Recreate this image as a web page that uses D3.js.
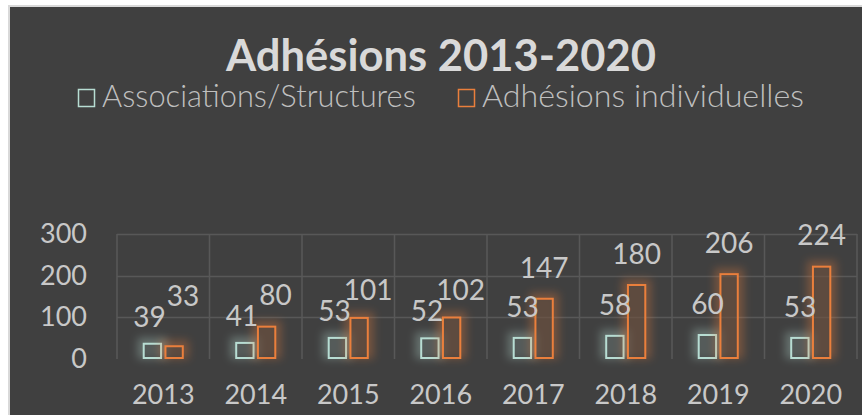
<!DOCTYPE html>
<html>
  <head>
    <meta charset="UTF-8">
    <style>
      body {
        margin: 0;
        background: #ffffff;
      }
      text {
        font-family: 'Lato', 'Open Sans', sans-serif;
      }
    </style>
    <script src="https://d3js.org/d3.v7.min.js"></script>
  </head>

  <body>
    <svg id="chart"></svg>

    <script type="text/javascript">
      let years = ['2013', '2014', '2015', '2016', '2017', '2018', '2019', '2020']
      let seriesNames = ['Associations/Structures', 'Adhésions individuelles']
      let associations = [39, 41, 53, 52, 53, 58, 60, 53]
      let individuelles = [33, 80, 101, 102, 147, 180, 206, 224]
      let yTicks = [0, 100, 200, 300]
      let title = 'Adhésions 2013-2020'

      let seriesColors = ['#b7ddd3', '#ea7f3c']

      function getConfig() {
        let width = 862
        let height = 415
        let margin = {top: 234, bottom: 55, left: 117, right: 5}
        let container = d3.select('#chart')
          .attr('width', width)
          .attr('height', height)
        return {width, height, margin, container}
      }

      function getScales(config) {
        let {width, height, margin} = config
        let xScale = d3.scaleBand()
          .domain(years)
          .range([margin.left, width - margin.right])
        let half = xScale.bandwidth() * 0.222
        let innerScale = d3.scaleBand()
          .domain(seriesNames)
          .range([-half, half])
          .paddingInner(0.11)
        let yScale = d3.scaleLinear()
          .domain([0, 300])
          .range([height - margin.bottom - 1, margin.top])
        return {xScale, innerScale, yScale}
      }

      function fitFont(sel, target, base) {
        sel.style('font-size', base + 'px')
        let w = sel.node().getComputedTextLength()
        sel.style('font-size', (base * target / w) + 'px')
      }

      function drawFrame(config) {
        let {container, width, height} = config
        container.append('rect')
          .attr('x', 9)
          .attr('y', 6)
          .attr('width', width)
          .attr('height', height)
          .attr('fill', '#404040')
          .attr('stroke', '#d9d9d9')
          .attr('stroke-width', 2)

        let defs = container.append('defs')
        let glow = defs.append('filter')
          .attr('id', 'glow')
          .attr('x', '-80%').attr('y', '-80%')
          .attr('width', '260%').attr('height', '260%')
        glow.append('feGaussianBlur')
          .attr('in', 'SourceGraphic')
          .attr('stdDeviation', 4.5)
      }

      function drawTitleAndLegend(config) {
        let {container} = config
        let t = container.append('text')
          .attr('x', 441)
          .attr('y', 71)
          .attr('text-anchor', 'middle')
          .attr('fill', '#d9d9d9')
          .style('font-weight', 'bold')
          .text(title)
        fitFont(t, 430, 40)

        let legendX = [78, 458]
        let legend = container.selectAll('.legend')
          .data(seriesNames)
          .enter()
          .append('g')
          .attr('class', 'legend')
          .attr('transform', (d, i) => `translate(${legendX[i]}, 0)`)

        legend.append('rect')
          .attr('x', 0.5)
          .attr('y', 89.5)
          .attr('width', 16)
          .attr('height', 17)
          .attr('fill', 'none')
          .attr('stroke', (d, i) => seriesColors[i])
          .attr('stroke-width', 1.5)

        legend.append('text')
          .attr('x', 24)
          .attr('y', 107)
          .attr('fill', '#bfbfbf')
          .style('font-weight', 300)
          .text(d => d)
          .each(function(d, i) {
            fitFont(d3.select(this), i == 0 ? 314 : 322, 24)
          })
      }

      function drawAxes(scales, config) {
        let {xScale, yScale} = scales
        let {container, margin} = config
        let grid = container.append('g')

        grid.selectAll('.hgrid')
          .data(yTicks.filter(v => v > 0))
          .enter()
          .append('line')
          .attr('x1', xScale.range()[0])
          .attr('x2', xScale.range()[1])
          .attr('y1', d => Math.round(yScale(d)) + 0.5)
          .attr('y2', d => Math.round(yScale(d)) + 0.5)
          .attr('stroke', '#585858')
          .attr('stroke-width', 1.5)

        let edges = years.map(y => xScale(y)).concat([xScale.range()[1]])
        grid.selectAll('.vgrid')
          .data(edges)
          .enter()
          .append('line')
          .attr('x1', d => d)
          .attr('x2', d => d)
          .attr('y1', yScale(300))
          .attr('y2', yScale(0))
          .attr('stroke', '#585858')
          .attr('stroke-width', 1.5)

        let axisY = d3.axisLeft(yScale)
          .tickValues(yTicks)
          .tickSize(0)
          .tickPadding(30)
        let gy = container.append('g')
          .attr('transform', `translate(${margin.left}, 0)`)
          .call(axisY)
        gy.select('.domain').remove()
        gy.selectAll('text')
          .attr('fill', '#c8c8c8')
          .style('font-size', '27px')
          .style('font-family', 'Lato, sans-serif')

        let axisX = d3.axisBottom(xScale)
          .tickSize(0)
          .tickPadding(26)
        let gx = container.append('g')
          .attr('transform', `translate(0, ${yScale(0)})`)
          .call(axisX)
        gx.select('.domain').remove()
        gx.selectAll('text')
          .attr('fill', '#c8c8c8')
          .style('font-size', '27px')
          .style('font-family', 'Lato, sans-serif')
      }

      function drawBars(scales, config) {
        let {xScale, innerScale, yScale} = scales
        let {container} = config
        let values = [associations, individuelles]
        let body = container.append('g')

        years.forEach((year, j) => {
          let cx = xScale(year) + xScale.bandwidth() / 2
          let group = body.append('g')
          seriesNames.forEach((name, i) => {
            let v = values[i][j]
            let x = cx + innerScale(name)
            let w = innerScale.bandwidth()
            let y = yScale(v)
            let h = yScale(0) - y
            group.append('rect')
              .attr('x', x - 5)
              .attr('y', y - 5)
              .attr('width', w + 10)
              .attr('height', h + 5)
              .attr('fill', seriesColors[i])
              .attr('opacity', 0.32)
              .attr('filter', 'url(#glow)')
            group.append('rect')
              .attr('x', x + 1)
              .attr('y', y + 1)
              .attr('width', w - 2)
              .attr('height', h - 2)
              .attr('fill', '#404040')
              .attr('fill-opacity', 0.45)
              .attr('stroke', seriesColors[i])
              .attr('stroke-width', 2)
          })
        })
      }

      function drawLabels(scales, config) {
        let {xScale, innerScale, yScale} = scales
        let {container} = config
        let labels = container.append('g')
          .attr('fill', '#c8c8c8')
          .style('font-size', '28px')
          .style('font-family', 'Lato, sans-serif')
          .attr('text-anchor', 'middle')

        years.forEach((year, j) => {
          let cx = xScale(year) + xScale.bandwidth() / 2
          let w = innerScale.bandwidth()
          let ax = cx + innerScale(seriesNames[0]) + w / 2
          let ay = yScale(associations[j]) - 30
          let bx = cx + innerScale(seriesNames[1]) + w / 2
          let by = yScale(individuelles[j]) - 30
          if (Math.abs(by - ay) < 22) {
            ay += 4
            by = ay - 21
            bx += 9
            ax -= 3
          }
          labels.append('text')
            .attr('x', ax)
            .attr('y', ay)
            .attr('dy', '0.35em')
            .text(associations[j])
          labels.append('text')
            .attr('x', bx)
            .attr('y', by)
            .attr('dy', '0.35em')
            .text(individuelles[j])
        })
      }

      let config = getConfig()
      let scales = getScales(config)
      drawFrame(config)
      drawTitleAndLegend(config)
      drawAxes(scales, config)
      drawBars(scales, config)
      drawLabels(scales, config)
    </script>
  </body>
</html>
